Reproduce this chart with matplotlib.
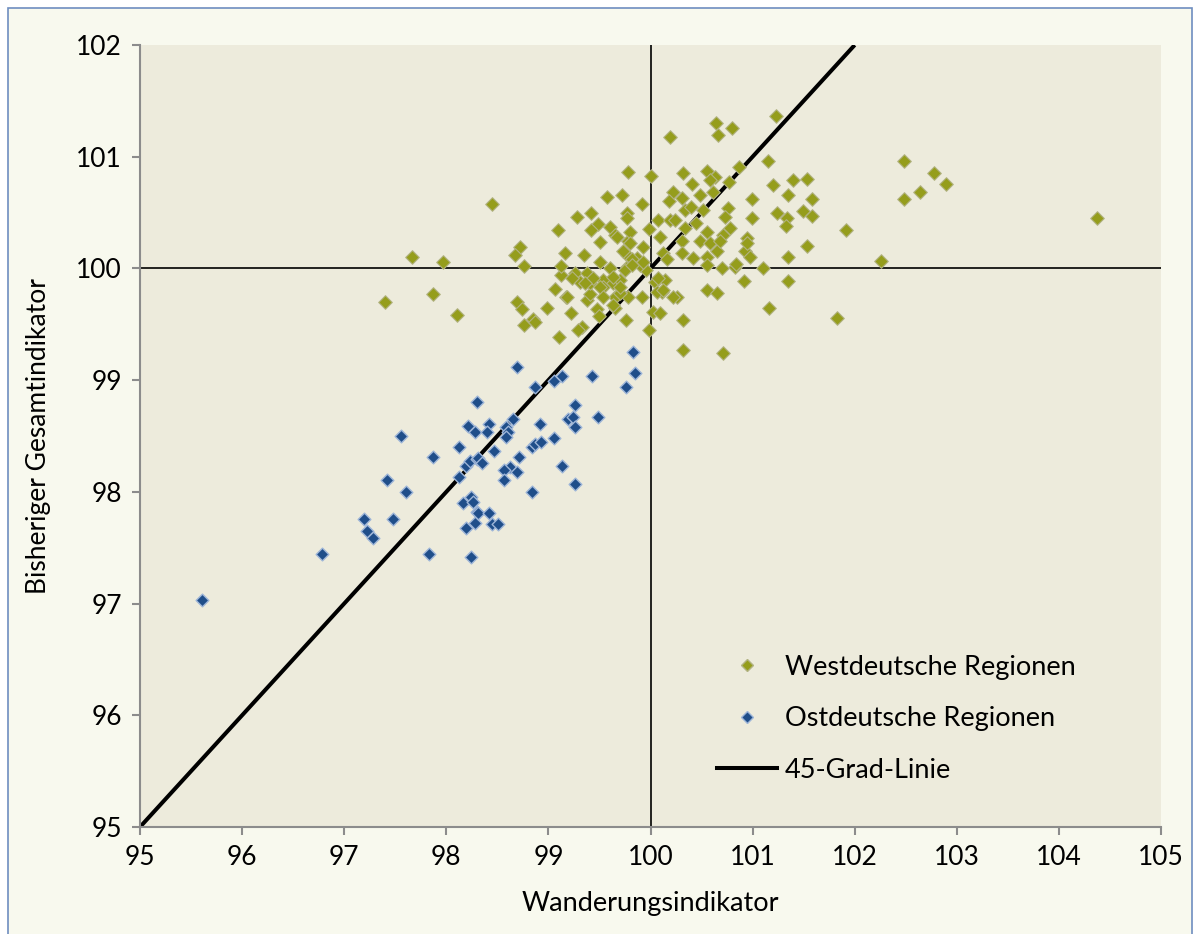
import matplotlib
matplotlib.use("Agg")
import matplotlib.pyplot as plt
from matplotlib.patches import Rectangle
from matplotlib.lines import Line2D

# ---- data ----
west_x = [97.40, 97.66, 97.97, 97.87, 98.10, 98.45, 98.72, 98.67, 98.76, 98.69,
          98.74, 98.99, 98.85, 98.76, 98.87, 99.10, 99.33, 99.29, 99.76, 99.99,
          99.22, 99.48, 99.50, 99.65, 100.02, 99.06, 99.17, 99.38, 99.41, 99.65,
          99.78, 99.92, 99.12, 99.26, 99.38, 99.31, 99.41, 99.53, 99.63, 99.70,
          100.04, 100.14, 100.11, 99.12, 99.51, 99.60, 99.77, 99.96, 99.16, 99.35,
          99.77, 99.87, 100.12, 100.16, 99.51, 99.78, 99.93, 99.49, 99.60, 99.42,
          99.65, 99.80, 99.99, 100.07, 100.19, 99.09, 99.77, 99.77, 99.28, 99.42,
          99.57, 99.72, 99.92, 99.78, 100.00, 100.19, 100.64, 100.80, 100.66, 101.23,
          101.15, 100.32, 100.55, 100.63, 100.87, 100.77, 100.41, 101.20, 101.40, 101.53,
          102.48, 102.78, 102.89, 102.64, 102.48, 104.37, 101.58, 101.49, 101.58, 101.91,
          101.53, 102.26, 101.83, 100.22, 100.31, 100.48, 100.58, 100.61, 100.18, 100.76,
          100.73, 100.99, 100.99, 101.35, 101.24, 101.34, 101.33, 101.35, 100.24, 100.34,
          100.51, 100.45, 100.34, 100.55, 100.78, 100.71, 100.09, 100.31, 100.48, 100.58,
          100.31, 100.42, 100.55, 100.65, 100.95, 100.93, 100.97, 100.55, 100.70, 100.83,
          101.10, 99.82, 99.90, 99.53, 100.06, 99.70, 100.26, 100.55, 100.65, 100.92,
          101.35, 100.32, 101.16, 100.32, 100.71, 99.73, 99.93, 99.75, 99.67, 99.80,
          99.82, 99.23, 99.44, 99.63, 99.36, 99.51, 99.70, 100.07, 100.12, 100.22,
          99.18, 99.53, 99.63, 100.09, 100.95, 100.68, 100.84, 100.40]
west_y = [99.70, 100.10, 100.06, 99.77, 99.58, 100.58, 100.19, 100.12, 100.02, 99.70,
          99.64, 99.65, 99.55, 99.49, 99.52, 99.39, 99.48, 99.45, 99.54, 99.45,
          99.60, 99.64, 99.57, 99.65, 99.61, 99.82, 99.74, 99.72, 99.77, 99.74,
          99.74, 99.74, 99.94, 99.96, 99.96, 99.88, 99.87, 99.90, 99.87, 99.90,
          99.88, 99.90, 99.79, 100.02, 100.06, 100.00, 100.01, 99.99, 100.14, 100.12,
          100.12, 100.09, 100.14, 100.08, 100.24, 100.25, 100.19, 100.40, 100.37, 100.34,
          100.30, 100.33, 100.35, 100.43, 100.43, 100.34, 100.50, 100.45, 100.46, 100.50,
          100.64, 100.66, 100.58, 100.86, 100.83, 101.18, 101.30, 101.26, 101.19, 101.36,
          100.96, 100.85, 100.87, 100.82, 100.91, 100.77, 100.76, 100.75, 100.79, 100.80,
          100.96, 100.85, 100.76, 100.68, 100.62, 100.45, 100.62, 100.51, 100.47, 100.34,
          100.20, 100.07, 99.56, 100.68, 100.63, 100.66, 100.79, 100.68, 100.60, 100.54,
          100.46, 100.62, 100.45, 100.66, 100.50, 100.45, 100.38, 100.10, 100.43, 100.52,
          100.52, 100.41, 100.36, 100.33, 100.36, 100.30, 100.28, 100.25, 100.25, 100.23,
          100.14, 100.09, 100.10, 100.16, 100.27, 100.16, 100.10, 100.03, 100.00, 100.01,
          100.00, 100.08, 100.03, 99.83, 99.79, 99.78, 99.74, 99.81, 99.78, 99.89,
          99.89, 99.54, 99.65, 99.27, 99.24, 100.16, 100.06, 99.99, 100.28, 100.23,
          100.03, 99.91, 99.91, 99.92, 99.87, 99.83, 99.83, 99.91, 99.81, 99.74,
          99.74, 99.74, 99.67, 99.60, 100.23, 100.25, 100.04, 100.55]

east_x = [95.61, 96.78, 97.19, 97.22, 97.28, 97.48, 97.42, 97.61, 97.56, 97.87,
          97.83, 98.12, 98.21, 98.28, 98.30, 98.12, 98.19, 98.23, 98.30, 98.24,
          98.16, 98.30, 98.19, 98.28, 98.24, 98.42, 98.40, 98.58, 98.65, 98.60,
          98.58, 98.47, 98.31, 98.35, 98.71, 98.62, 98.57, 98.69, 98.57, 98.84,
          98.87, 98.93, 98.92, 99.05, 98.87, 99.05, 99.13, 99.43, 99.26, 99.19,
          99.24, 99.26, 99.49, 99.13, 98.84, 99.26, 98.26, 98.31, 98.42, 98.45,
          98.51, 98.69, 99.83, 99.85, 99.76]
east_y = [97.03, 97.44, 97.76, 97.65, 97.59, 97.76, 98.11, 98.00, 98.50, 98.31,
          97.44, 98.40, 98.59, 98.54, 98.80, 98.13, 98.23, 98.28, 98.29, 97.95,
          97.90, 97.82, 97.68, 97.72, 97.42, 98.61, 98.54, 98.58, 98.65, 98.54,
          98.49, 98.37, 98.30, 98.26, 98.31, 98.22, 98.20, 98.18, 98.11, 98.40,
          98.43, 98.45, 98.61, 98.48, 98.94, 98.99, 99.04, 99.04, 98.78, 98.65,
          98.67, 98.58, 98.67, 98.23, 98.00, 98.07, 97.91, 97.81, 97.81, 97.71,
          97.71, 99.12, 99.25, 99.06, 98.94]

line45 = [95, 102]
x_ticks = [95, 96, 97, 98, 99, 100, 101, 102, 103, 104, 105]
y_ticks = [95, 96, 97, 98, 99, 100, 101, 102]
labels = ["Westdeutsche Regionen", "Ostdeutsche Regionen", "45-Grad-Linie"]
x_label = "Wanderungsindikator"
y_label = "Bisheriger Gesamtindikator"

plt.rcParams['font.family'] = ['Lato', 'DejaVu Sans']

fig = plt.figure(figsize=(12, 9.34), dpi=100, facecolor='white')
fig.patches.append(Rectangle((8/1200, -0.02), 1184/1200, 1 - 8/934 + 0.02,
                             transform=fig.transFigure, facecolor='#F8F9EE',
                             edgecolor='#6E8EC0', linewidth=1.2, zorder=-10))

ax = fig.add_axes([140/1200, 1 - 827/934, 1021/1200, 782/934])
ax.set_facecolor('#EDEBDC')

ax.axvline(100, color='black', lw=1.2, zorder=1)
ax.axhline(100, color='black', lw=1.2, zorder=1)
ax.plot(line45, line45, color='black', lw=2.9, zorder=2, solid_capstyle='butt')

ax.scatter(west_x, west_y, marker='D', s=48, facecolor='#959D1C',
           edgecolor='#B2B383', linewidth=0.8, zorder=3)
ax.scatter(east_x, east_y, marker='D', s=42, facecolor='#1F4E8A',
           edgecolor='#9DB5D8', linewidth=1.0, zorder=3)

ax.set_xlim(95, 105)
ax.set_ylim(95, 102)
ax.set_xticks(x_ticks)
ax.set_yticks(y_ticks)
for s in ['top', 'right']:
    ax.spines[s].set_visible(False)
for s in ['left', 'bottom']:
    ax.spines[s].set_color('#8C8C8C')
    ax.spines[s].set_linewidth(1.5)
ax.tick_params(direction='out', length=6, width=1.5, color='#8C8C8C',
               labelsize=19, labelcolor='black', pad=7)
ax.tick_params(axis='y', pad=7)
ax.set_xlabel(x_label, fontsize=19.5, labelpad=15)
ax.set_ylabel(y_label, fontsize=19, labelpad=18)

handles = [
    Line2D([], [], ls='none', marker='D', markersize=6, markerfacecolor='#959D1C',
           markeredgecolor='#B2B383'),
    Line2D([], [], ls='none', marker='D', markersize=6, markerfacecolor='#1F4E8A',
           markeredgecolor='#9DB5D8'),
    Line2D([], [], color='black', lw=2.9),
]
ax.legend(handles, labels, loc='upper left', bbox_to_anchor=(0.555, 0.234),
          frameon=False, fontsize=19.5, handlelength=2.2, handletextpad=0.3,
          labelspacing=0.98, borderaxespad=0)

fig.savefig('out.png', dpi=100, facecolor='white')
